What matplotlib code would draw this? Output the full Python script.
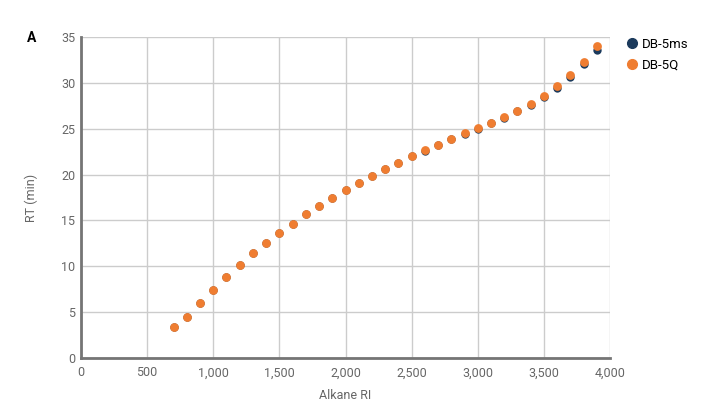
import matplotlib.pyplot as plt
from matplotlib.lines import Line2D

plt.rcParams['font.family'] = ['Roboto', 'DejaVu Sans']

alkane_ri = [700, 800, 900, 1000, 1100, 1200, 1300, 1400, 1500, 1600,
             1700, 1800, 1900, 2000, 2100, 2200, 2300, 2400, 2500, 2600,
             2700, 2800, 2900, 3000, 3100, 3200, 3300, 3400, 3500, 3600,
             3700, 3800, 3900]
rt_db5q = [3.4, 4.5, 6.0, 7.45, 8.85, 10.15, 11.4, 12.55, 13.65, 14.65,
           15.7, 16.6, 17.45, 18.3, 19.1, 19.85, 20.6, 21.3, 22.0, 22.65,
           23.25, 23.9, 24.5, 25.05, 25.65, 26.25, 26.95, 27.7, 28.6, 29.65,
           30.85, 32.3, 34.0]
rt_db5ms = [3.4, 4.5, 6.0, 7.45, 8.85, 10.15, 11.4, 12.55, 13.65, 14.65,
            15.7, 16.6, 17.45, 18.3, 19.1, 19.85, 20.6, 21.3, 21.98, 22.62,
            23.22, 23.85, 24.45, 25.0, 25.6, 26.2, 26.9, 27.6, 28.42, 29.45,
            30.6, 32.05, 33.6]

navy = '#1b3a5c'
orange = '#ef7d31'
grey = '#666666'

fig = plt.figure(figsize=(7.07, 4.13), dpi=100)
ax = fig.add_axes([81 / 707, 1 - 358 / 413, 529 / 707, 321 / 413])

ax.scatter(alkane_ri, rt_db5ms, s=36, color=navy, zorder=3, linewidths=0)
ax.scatter(alkane_ri, rt_db5q, s=40, color=orange, zorder=4, linewidths=0)

ax.set_xlim(0, 4000)
ax.set_ylim(0, 35)
ax.set_xticks(range(0, 4001, 500))
ax.set_xticklabels([f'{v:,}' for v in range(0, 4001, 500)])
ax.set_yticks(range(0, 36, 5))
ax.grid(True, color='#cccccc', linewidth=1)
ax.set_axisbelow(True)
for s in ['top', 'right']:
    ax.spines[s].set_visible(False)
for s in ['bottom', 'left']:
    ax.spines[s].set_color('#757575')
    ax.spines[s].set_linewidth(2)
    ax.spines[s].set_zorder(5)
ax.tick_params(length=0, labelsize=9, colors=grey, pad=6)
ax.tick_params(axis='y', pad=4)

ax.set_xlabel('Alkane RI', fontsize=9, color=grey, labelpad=7)
ax.set_ylabel('RT (min)', fontsize=9, color=grey, labelpad=17)

fig.text(27 / 707, 1 - 38 / 413, 'A', fontsize=10, fontweight='bold',
         color='black', va='center', ha='left')

handles = [Line2D([], [], marker='o', linestyle='', color=navy, markersize=7),
           Line2D([], [], marker='o', linestyle='', color=orange, markersize=7)]
fig.legend(handles, ['DB-5ms', 'DB-5Q'], loc='upper left',
           bbox_to_anchor=(612 / 707, 1 - 26 / 413), frameon=False,
           fontsize=9.5, handletextpad=0.2, labelspacing=0.55,
           handlelength=1.2)

fig.savefig('out.png', dpi=100)
